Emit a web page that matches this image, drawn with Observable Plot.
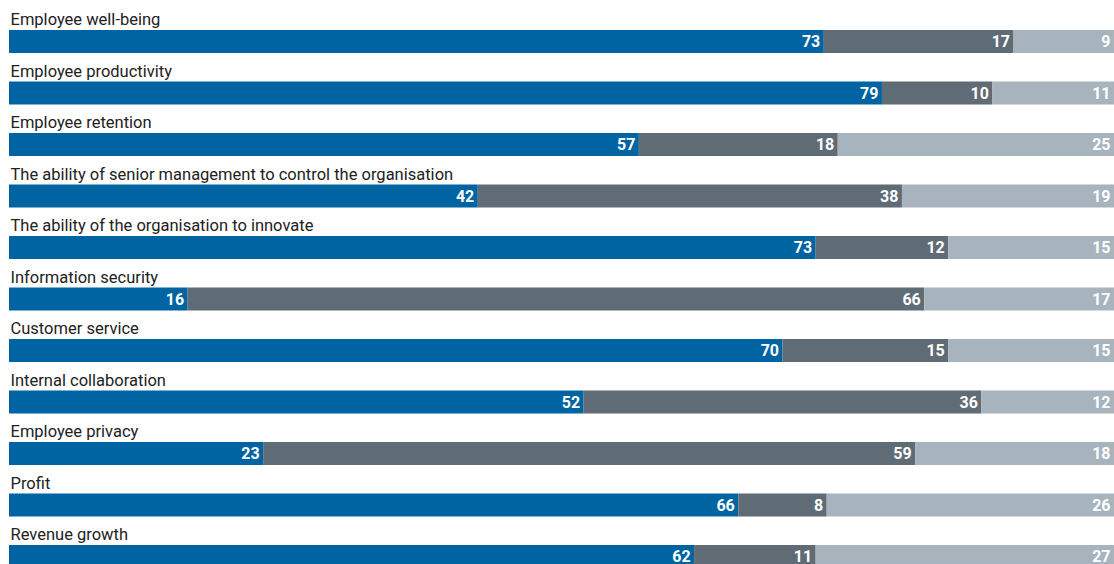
<!DOCTYPE html>
<html>
<head>
<meta charset="utf-8">
<script src="https://cdn.jsdelivr.net/npm/d3@7"></script>
<script src="https://cdn.jsdelivr.net/npm/@observablehq/plot@0.6"></script>
<style>
  html, body { margin: 0; padding: 0; background: #fff; overflow: hidden; }
  #chart svg { display: block; }
</style>
</head>
<body>
<div id="chart"></div>
<script>
const categories = [
  "Employee well-being",
  "Employee productivity",
  "Employee retention",
  "The ability of senior management to control the organisation",
  "The ability of the organisation to innovate",
  "Information security",
  "Customer service",
  "Internal collaboration",
  "Employee privacy",
  "Profit",
  "Revenue growth"
];
const seriesNames = ["Positive", "Neutral", "Negative"];
const positive = [73, 79, 57, 42, 73, 16, 70, 52, 23, 66, 62];
const neutral  = [17, 10, 18, 38, 12, 66, 15, 36, 59, 8, 11];
const negative = [9, 11, 25, 19, 15, 17, 15, 12, 18, 26, 27];
const colors = ["#0064a2", "#5f6b75", "#a8b4bd"];

const seriesValues = [positive, neutral, negative];
const data = [];
categories.forEach((c, i) => {
  seriesNames.forEach((s, j) => {
    data.push({category: c, series: s, value: seriesValues[j][i]});
  });
});

const step = 51.5;
const barH = 23;
const chart = Plot.plot({
  width: 1114,
  height: 1.5 + step * categories.length,
  marginLeft: 9,
  marginRight: 0,
  marginTop: 1.5,
  marginBottom: 0,
  style: {fontFamily: "Roboto, sans-serif"},
  x: {axis: null, domain: [0, 1]},
  y: {axis: null, domain: categories, padding: 0, round: false},
  color: {domain: seriesNames, range: colors},
  marks: [
    Plot.barX(data, Plot.stackX({
      x: "value", y: "category", fill: "series", order: seriesNames, offset: "normalize",
      insetTop: step - barH, insetBottom: 0
    })),
    Plot.text(data, Plot.stackX2({
      x: "value", y: "category", z: "series", order: seriesNames, offset: "normalize",
      text: d => String(d.value),
      textAnchor: "end", dx: -4, dy: (step - barH) / 2,
      fill: "white", fontWeight: "bold", fontSize: 16
    })),
    Plot.text(categories, {
      y: d => d, frameAnchor: "left", text: d => d,
      textAnchor: "start", lineAnchor: "bottom",
      dx: 1, dy: -step / 2 + (step - barH) - 5.5,
      fill: "#222", fontSize: 16.5
    })
  ]
});
document.getElementById("chart").append(chart);
</script>
</body>
</html>
